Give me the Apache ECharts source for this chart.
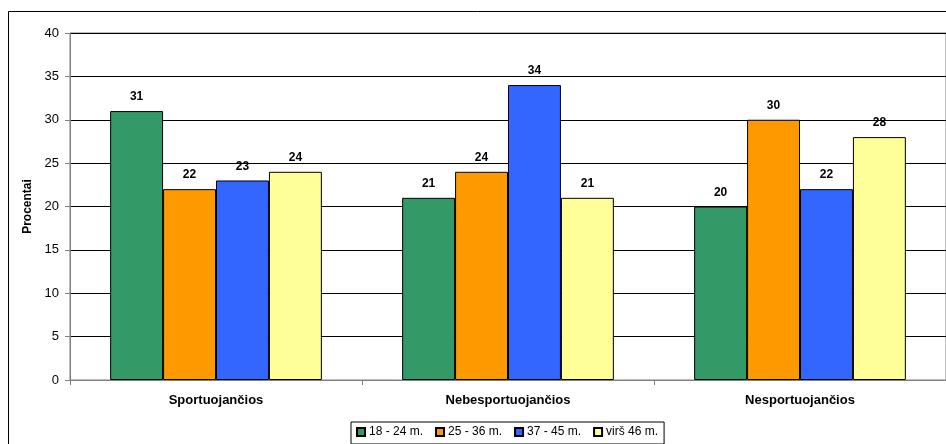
<!DOCTYPE html>
<html>
<head>
<meta charset="utf-8">
<style>
  html, body { margin: 0; padding: 0; background: #fff; }
  #chart { width: 946px; height: 444px; }
</style>
<script src="https://cdn.jsdelivr.net/npm/echarts@6/dist/echarts.min.js"></script>
</head>
<body>
<div id="chart"></div>
<script>
// Activity groups on the category axis
const categories = ['Sportuojančios', 'Nebesportuojančios', 'Nesportuojančios'];
// Age groups (legend entries)
const ageGroups = ['18 - 24 m.', '25 - 36 m.', '37 - 45 m.', 'virš 46 m.'];
// Percent of respondents per age group, in category order
const age18to24 = [31, 21, 20];
const age25to36 = [22, 24, 30];
const age37to45 = [23, 34, 22];
const ageOver46 = [24, 21, 28];
// Value axis ticks
const yMin = 0, yMax = 40, yStep = 5;

const seriesValues = [age18to24, age25to36, age37to45, ageOver46];
const colors = ['#339966', '#FF9900', '#3366FF', '#FFFF99'];
const font = '"Liberation Sans", Arial, sans-serif';

const chart = echarts.init(document.getElementById('chart'), null, { renderer: 'canvas' });

chart.setOption({
  animation: false,
  backgroundColor: '#ffffff',
  textStyle: { fontFamily: font },
  graphic: [{
    type: 'rect',
    z: -10,
    silent: true,
    shape: { x: 8.5, y: 11.5, width: 1200, height: 1200 },
    style: { fill: 'none', stroke: '#000', lineWidth: 1 }
  }],
  grid: { left: 70, right: -2, top: 33, bottom: 64, containLabel: false,
          show: true, borderColor: '#808080', borderWidth: 1 },
  legend: {
    data: ageGroups,
    top: 422,
    left: 351,
    padding: [4, 6, 6, 5],
    borderColor: '#000',
    borderWidth: 1,
    backgroundColor: '#fff',
    itemWidth: 8,
    itemHeight: 8,
    itemGap: 12,
    icon: 'rect',
    textStyle: { fontFamily: font, fontSize: 12, color: '#000', padding: [0, 0, 0, -1] }
  },
  xAxis: {
    type: 'category',
    data: categories,
    axisLine: { lineStyle: { color: '#808080', width: 1 } },
    axisTick: { show: true, alignWithLabel: false, length: 5, lineStyle: { color: '#808080' } },
    axisLabel: { fontFamily: font, fontSize: 13, fontWeight: 'bold', color: '#000', margin: 14 },
    splitLine: { show: false }
  },
  yAxis: {
    type: 'value',
    min: yMin, max: yMax, interval: yStep,
    name: 'Procentai',
    nameLocation: 'middle',
    nameGap: 32,
    nameRotate: 90,
    nameTextStyle: { fontFamily: font, fontSize: 12, fontWeight: 'bold', color: '#000' },
    axisLine: { show: true, lineStyle: { color: '#808080', width: 1 } },
    axisTick: { show: true, length: 5, lineStyle: { color: '#808080' } },
    axisLabel: { fontFamily: font, fontSize: 13, color: '#000', margin: 11 },
    splitLine: { show: true, lineStyle: { color: '#000', width: 1 } }
  },
  series: seriesValues.map((vals, i) => ({
    name: ageGroups[i],
    type: 'bar',
    data: vals,
    barGap: '0%',
    barCategoryGap: '27.5%',
    itemStyle: { color: colors[i], borderColor: '#000', borderWidth: 1 },
    label: {
      show: true,
      position: 'top',
      distance: 8,
      fontFamily: font,
      fontSize: 12,
      fontWeight: 'bold',
      color: '#000'
    }
  }))
});
</script>
</body>
</html>
